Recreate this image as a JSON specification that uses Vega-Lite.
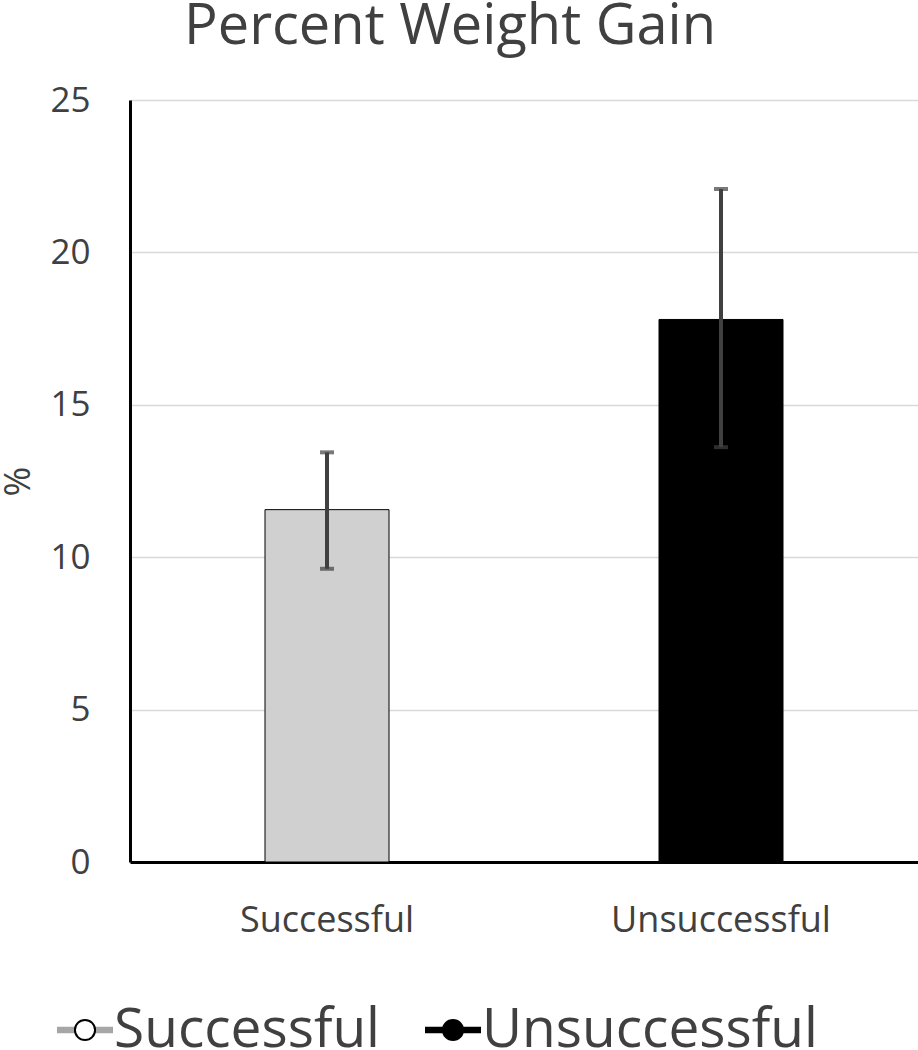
{
  "$schema": "https://vega.github.io/schema/vega-lite/v6.json",
  "width": 788,
  "height": 762,
  "autosize": {"type": "none"},
  "padding": {"left": 130, "top": 100, "right": 0, "bottom": 188},
  "background": "white",
  "config": {"font": "Open Sans", "view": {"stroke": null}},
  "title": {
    "text": "Percent Weight Gain",
    "fontSize": 56,
    "fontWeight": "normal",
    "color": "#404040",
    "anchor": "middle",
    "baseline": "alphabetic",
    "dx": -74,
    "offset": -17
  },
  "data": {
    "values": [
      {"group": "Successful", "value": 11.56, "lo": 9.62, "hi": 13.44},
      {"group": "Unsuccessful", "value": 17.8, "lo": 13.61, "hi": 22.08}
    ]
  },
  "encoding": {
    "x": {
      "field": "group",
      "type": "nominal",
      "sort": null,
      "scale": {"paddingInner": 0, "paddingOuter": 0},
      "axis": {
        "title": null,
        "labelAngle": 0,
        "labelFontSize": 36,
        "labelColor": "#404040",
        "labelBaseline": "alphabetic",
        "labelPadding": 69,
        "labelLimit": 0,
        "ticks": false,
        "tickSize": 0,
        "domainColor": "black",
        "domainWidth": 3,
        "grid": false
      }
    }
  },
  "layer": [
    {
      "mark": {"type": "bar", "width": 124, "stroke": "black", "strokeWidth": 1},
      "encoding": {
        "y": {
          "field": "value",
          "type": "quantitative",
          "title": "%",
          "scale": {"domain": [0, 25], "nice": false},
          "axis": {
            "values": [0, 5, 10, 15, 20, 25],
            "domainColor": "black",
            "domainWidth": 3,
            "ticks": false,
            "tickSize": 0,
            "grid": true,
            "gridColor": "#d9d9d9",
            "gridWidth": 1.5,
            "labelFontSize": 35,
            "labelColor": "#404040",
            "labelPadding": 40,
            "titleFontSize": 36,
            "titleFontWeight": "normal",
            "titleColor": "#404040",
            "titleBaseline": "middle",
            "titleX": -112,
            "titleY": 381
          }
        },
        "fill": {
          "field": "group",
          "type": "nominal",
          "sort": null,
          "scale": {"range": ["#d0d0d0", "#000000"]},
          "legend": null
        }
      }
    },
    {
      "mark": {"type": "rule", "color": "#404040", "strokeWidth": 4},
      "encoding": {
        "y": {"field": "lo", "type": "quantitative", "title": "%", "scale": {"domain": [0, 25], "nice": false}},
        "y2": {"field": "hi"}
      }
    },
    {
      "mark": {"type": "tick", "color": "#404040", "thickness": 4, "size": 14},
      "encoding": {"y": {"field": "lo", "type": "quantitative", "title": "%", "scale": {"domain": [0, 25], "nice": false}}}
    },
    {
      "mark": {"type": "tick", "color": "#404040", "thickness": 4, "size": 14},
      "encoding": {"y": {"field": "hi", "type": "quantitative", "title": "%", "scale": {"domain": [0, 25], "nice": false}}}
    },
    {
      "mark": {"type": "point", "filled": true, "opacity": 0, "size": 10},
      "encoding": {
        "y": {"field": "value", "type": "quantitative", "title": "%", "scale": {"domain": [0, 25], "nice": false}},
        "stroke": {
          "field": "group",
          "type": "nominal",
          "sort": null,
          "scale": {"range": ["#a6a6a6", "#000000"]},
          "legend": {
            "orient": "none",
            "legendX": -74,
            "legendY": 901,
            "direction": "horizontal",
            "title": null,
            "symbolType": "M-1,-0.08 L-0.36,-0.08 M-1,-0.04 L-0.36,-0.04 M-1,0 L-0.36,0 M-1,0.04 L-0.36,0.04 M-1,0.08 L-0.36,0.08 M0.36,-0.08 L1,-0.08 M0.36,-0.04 L1,-0.04 M0.36,0 L1,0 M0.36,0.04 L1,0.04 M0.36,0.08 L1,0.08",
            "symbolSize": 3136,
            "symbolStrokeWidth": 2,
            "symbolFillColor": "transparent",
            "symbolOpacity": 1,
            "labelFontSize": 55,
            "labelColor": "#404040",
            "labelOpacity": 0,
            "labelLimit": 0,
            "labelOffset": 0,
            "columnPadding": 40
          }
        },
        "fill": {
          "field": "group",
          "type": "nominal",
          "sort": null,
          "scale": {"range": ["#ffffff", "#000000"]},
          "legend": {
            "orient": "none",
            "legendX": -74,
            "legendY": 901,
            "direction": "horizontal",
            "title": null,
            "symbolType": "M-1,0 L-0.999,0 M0.999,0 L1,0 M-0.36,0 A0.36,0.36 0 1,1 0.36,0 A0.36,0.36 0 1,1 -0.36,0 Z",
            "symbolSize": 3136,
            "symbolStrokeWidth": 2,
            "symbolStrokeColor": "black",
            "symbolOpacity": 1,
            "labelFontSize": 55,
            "labelColor": "#404040",
            "labelLimit": 0,
            "labelOffset": 0,
            "columnPadding": 40
          }
        }
      }
    }
  ],
  "resolve": {"scale": {"fill": "independent"}, "legend": {"fill": "independent"}}
}
